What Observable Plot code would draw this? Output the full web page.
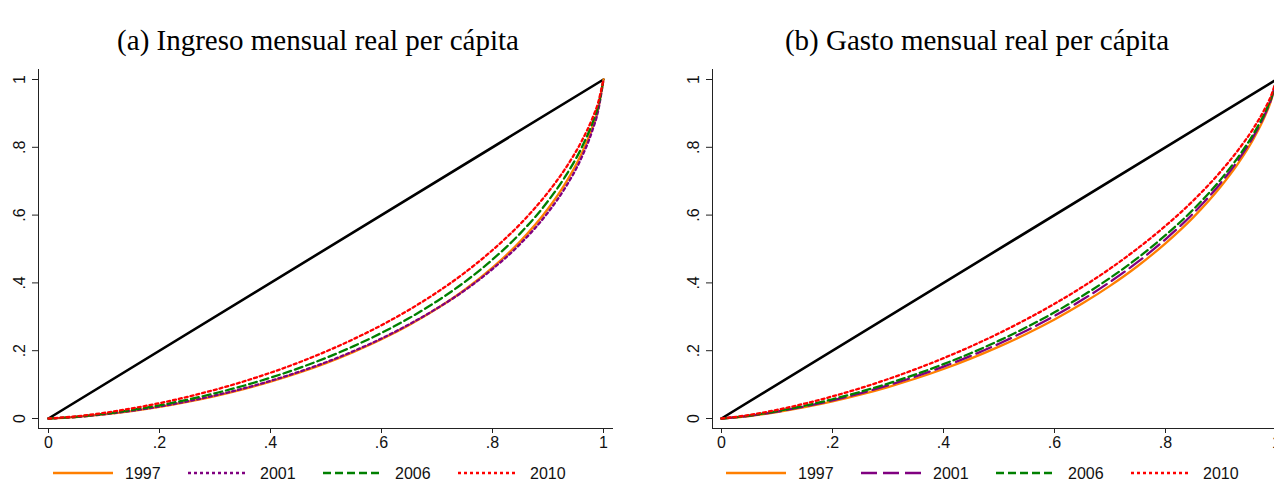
<!DOCTYPE html>
<html>
<head>
<meta charset="utf-8">
<script src="https://cdn.jsdelivr.net/npm/d3@7"></script>
<script src="https://cdn.jsdelivr.net/npm/@observablehq/plot@0.6"></script>
<style>
  html, body { margin: 0; padding: 0; background: #fff; overflow: hidden; }
  #page { position: relative; width: 1274px; height: 484px; overflow: hidden; }
  .panel { position: absolute; }
  .panel svg { max-width: none !important; }
  .title { position: absolute; font-family: "Liberation Serif", "Times New Roman", serif; font-size: 29px; line-height: 29px; color: #000; white-space: nowrap; transform: translateX(-50%); }
  .legend { position: absolute; }
</style>
</head>
<body>
<div id="page"></div>
<script>
// ---- Data ----
const shares = [0, 0.05, 0.1, 0.15, 0.2, 0.25, 0.3, 0.35, 0.4, 0.45, 0.5, 0.55, 0.6, 0.65, 0.7, 0.75, 0.8, 0.85, 0.9, 0.93, 0.96, 0.98, 0.99, 1];

// (a) Ingreso mensual real per cápita
const ingreso1997 = [0, 0.0043, 0.0119, 0.0219, 0.0342, 0.049, 0.0663, 0.0861, 0.1088, 0.1344, 0.1635, 0.1965, 0.2336, 0.276, 0.3242, 0.3798, 0.4451, 0.5225, 0.6186, 0.69, 0.7796, 0.8586, 0.911, 1];
const ingreso2001 = [0, 0.0045, 0.0125, 0.0228, 0.0355, 0.0505, 0.068, 0.088, 0.111, 0.137, 0.166, 0.199, 0.236, 0.278, 0.325, 0.378, 0.441, 0.515, 0.608, 0.678, 0.768, 0.85, 0.905, 1];
const ingreso2006 = [0, 0.0052, 0.0138, 0.0252, 0.039, 0.0554, 0.0744, 0.0959, 0.1204, 0.1478, 0.1788, 0.2136, 0.2524, 0.2963, 0.3461, 0.4029, 0.4689, 0.5462, 0.6413, 0.711, 0.797, 0.8716, 0.92, 1];
const ingreso2010 = [0, 0.0063, 0.0165, 0.0296, 0.0453, 0.0637, 0.0847, 0.1084, 0.135, 0.1646, 0.1977, 0.2345, 0.2753, 0.321, 0.3722, 0.4302, 0.4968, 0.5738, 0.6671, 0.7344, 0.8162, 0.8857, 0.93, 1];

// (b) Gasto mensual real per cápita
const gasto1997 = [0, 0.0072, 0.0187, 0.0332, 0.0503, 0.0701, 0.0928, 0.118, 0.1461, 0.1773, 0.2119, 0.2501, 0.2922, 0.3391, 0.3913, 0.4499, 0.5167, 0.5933, 0.6851, 0.7505, 0.8292, 0.895, 0.9365, 1];
const gasto2001 = [0, 0.0079, 0.0201, 0.0355, 0.0535, 0.0742, 0.0978, 0.124, 0.1531, 0.1851, 0.2206, 0.2598, 0.3026, 0.3501, 0.4029, 0.4618, 0.5287, 0.6049, 0.6957, 0.76, 0.8367, 0.9004, 0.94, 1];
const gasto2006 = [0, 0.0085, 0.0216, 0.0379, 0.0568, 0.0785, 0.1031, 0.1303, 0.1603, 0.1932, 0.2296, 0.2696, 0.3131, 0.3613, 0.4145, 0.4737, 0.5406, 0.6164, 0.7061, 0.769, 0.8438, 0.9056, 0.9436, 1];
const gasto2010 = [0, 0.0103, 0.0255, 0.044, 0.0653, 0.0893, 0.1162, 0.1457, 0.178, 0.213, 0.2514, 0.2932, 0.3383, 0.3878, 0.442, 0.502, 0.5683, 0.6428, 0.7297, 0.79, 0.86, 0.9168, 0.9511, 1];

const equality = [0, 1];
const years = ["1997", "2001", "2006", "2010"];
const xTicks = [0, 0.2, 0.4, 0.6, 0.8, 1];
const yTicks = [0, 0.2, 0.4, 0.6, 0.8, 1];
const titles = ["(a) Ingreso mensual real per cápita", "(b) Gasto mensual real per cápita"];

// ---- Styles ----
const colors = {"1997": "#ff7f00", "2001": "#800080", "2006": "#008000", "2010": "#ff0000"};
const dashA = {"1997": null, "2001": "3,3", "2006": "8,4", "2010": "3,3"};
const dashB = {"1997": null, "2001": "16,6", "2006": "8,4", "2010": "3,3"};

const fmt = d => d === 0 ? "0" : d === 1 ? "1" : String(d).replace(/^0/, "");

function makeTable(series) {
  const rows = [];
  years.forEach((yr, i) => shares.forEach((s, j) => rows.push({year: yr, p: s, L: series[i][j]})));
  return rows;
}

function panel(series, dash, opts) {
  const rows = makeTable(series);
  const marks = [
    Plot.frame({anchor: "left", stroke: "#222", strokeWidth: 1}),
    Plot.frame({anchor: "bottom", stroke: "#222", strokeWidth: 1}),
    Plot.axisX({ticks: xTicks, tickFormat: fmt, tickSize: 5, tickPadding: 3, stroke: "#222", fill: "#111", label: null}),
    Plot.axisY({ticks: yTicks, tickFormat: fmt, tickSize: 6, tickPadding: 8, tickRotate: -90, stroke: "#222", fill: "#111", label: null}),
    Plot.line(equality.map(v => ({p: v, L: v})), {x: "p", y: "L", stroke: "#000", strokeWidth: 2.6})
  ];
  years.forEach(yr => {
    marks.push(Plot.line(rows.filter(r => r.year === yr), {
      x: "p", y: "L", stroke: colors[yr], strokeWidth: 2.3,
      strokeDasharray: dash[yr] || undefined, curve: "monotone-x"
    }));
  });
  return Plot.plot({
    width: opts.width, height: 395,
    marginLeft: 38, marginRight: opts.marginRight, marginTop: 9, marginBottom: 27,
    x: {domain: [0, 1], range: opts.xRange, label: null},
    y: {domain: [0, 1], range: [358, 19], label: null},
    style: {fontFamily: "'Liberation Sans', Arial, sans-serif", fontSize: "16px", color: "#111", background: "transparent", overflow: "visible"},
    marks
  });
}

const page = document.getElementById("page");

function addPanel(left, width, svg) {
  const d = document.createElement("div");
  d.className = "panel";
  d.style.left = left + "px"; d.style.top = "60px"; d.style.width = width + "px";
  d.appendChild(svg);
  page.appendChild(d);
}

addPanel(0, 640, panel([ingreso1997, ingreso2001, ingreso2006, ingreso2010], dashA, {width: 640, marginRight: 28, xRange: [48, 603]}));
addPanel(674, 602, panel([gasto1997, gasto2001, gasto2006, gasto2010], dashB, {width: 602, marginRight: 0, xRange: [47, 602]}));

// Titles
[[318, titles[0]], [977, titles[1]]].forEach(([cx, t]) => {
  const d = document.createElement("div");
  d.className = "title";
  d.style.left = cx + "px"; d.style.top = "26px";
  d.textContent = t;
  page.appendChild(d);
});

// Legends
function legend(left, dash) {
  const ns = "http://www.w3.org/2000/svg";
  const svg = document.createElementNS(ns, "svg");
  svg.setAttribute("width", 560); svg.setAttribute("height", 24);
  svg.setAttribute("class", "legend");
  svg.style.left = left + "px"; svg.style.top = "461px";
  years.forEach((yr, i) => {
    const x0 = i * 135;
    const ln = document.createElementNS(ns, "line");
    ln.setAttribute("x1", x0); ln.setAttribute("x2", x0 + 60);
    ln.setAttribute("y1", 12); ln.setAttribute("y2", 12);
    ln.setAttribute("stroke", colors[yr]); ln.setAttribute("stroke-width", 2.3);
    if (dash[yr]) ln.setAttribute("stroke-dasharray", dash[yr]);
    svg.appendChild(ln);
    const tx = document.createElementNS(ns, "text");
    tx.setAttribute("x", x0 + 72); tx.setAttribute("y", 17.5);
    tx.setAttribute("font-family", "'Liberation Sans', Arial, sans-serif");
    tx.setAttribute("font-size", 16); tx.setAttribute("fill", "#111");
    tx.textContent = yr;
    svg.appendChild(tx);
  });
  page.appendChild(svg);
}
legend(53, dashA);
legend(726, dashB);
</script>
</body>
</html>
